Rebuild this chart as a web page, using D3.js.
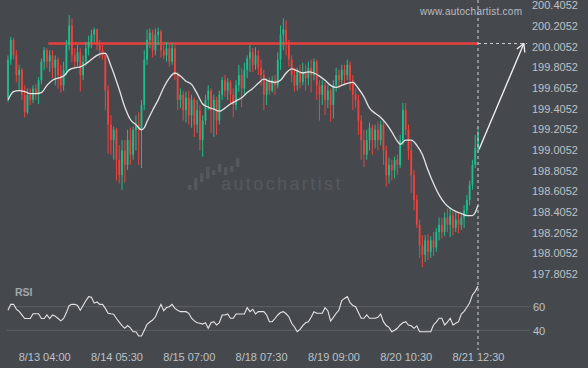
<!DOCTYPE html>
<html>
<head>
<meta charset="utf-8">
<script src="https://cdn.jsdelivr.net/npm/d3@7"></script>
<style>
  body { margin: 0; background: #45494e; }
  svg { display: block; font-family: "Liberation Sans", Arial, sans-serif; }
</style>
</head>
<body>
<div id="chart"></div>
<script>
var width = 588, height = 368;

// 30 min candles
var opens = [199.48,199.85,200.04,199.89,199.70,199.75,199.51,199.34,199.51,199.46,
  199.57,199.51,199.65,199.83,199.94,199.83,199.89,199.77,199.85,199.70,
  199.60,199.75,199.99,200.18,199.89,199.83,199.92,199.70,199.83,199.96,
  200.02,200.09,200.14,199.99,199.94,199.89,199.55,199.22,199.07,199.17,
  198.88,198.73,198.97,198.83,199.07,198.93,199.17,199.22,199.17,199.41,
  199.85,200.04,200.11,199.94,200.09,200.12,199.94,199.89,199.96,199.83,
  199.96,199.70,199.46,199.51,199.36,199.48,199.31,199.46,199.22,199.36,
  199.07,199.26,199.46,199.55,199.36,199.46,199.26,199.51,199.65,199.55,
  199.63,199.51,199.41,199.60,199.70,199.57,199.75,199.86,199.92,199.80,
  199.89,199.77,199.70,199.51,199.63,199.55,199.65,199.60,199.85,200.09,
  200.14,199.99,199.85,199.70,199.60,199.73,199.63,199.73,199.67,199.77,
  199.70,199.83,199.60,199.51,199.60,199.46,199.55,199.41,199.60,199.70,
  199.65,199.75,199.70,199.80,199.65,199.51,199.46,199.26,199.07,198.93,
  199.07,199.19,199.07,199.17,199.07,199.22,198.97,198.73,198.83,198.78,
  198.88,198.83,199.07,199.36,199.17,198.97,198.73,198.49,198.25,198.05,
  197.96,198.10,197.99,198.10,198.03,198.18,198.25,198.18,198.32,198.25,
  198.34,198.22,198.30,198.25,198.32,198.39,198.49,198.64,198.83,198.99];
var highs = [199.89,200.07,200.06,199.94,199.80,199.77,199.60,199.57,199.57,199.60,
  199.61,199.68,199.86,199.97,199.96,199.94,199.94,199.89,199.87,199.80,
  199.83,200.04,200.28,200.25,199.96,199.99,199.96,199.89,200.02,200.08,
  200.14,200.16,200.15,200.04,199.99,199.92,199.60,199.31,199.20,199.19,
  199.02,199.07,199.07,199.17,199.19,199.20,199.31,199.34,199.46,199.94,
  200.14,200.15,200.14,200.15,200.16,200.14,199.99,200.02,199.99,200.01,
  199.99,199.73,199.57,199.55,199.54,199.55,199.51,199.48,199.46,199.41,
  199.31,199.51,199.60,199.57,199.51,199.49,199.55,199.68,199.70,199.67,
  199.65,199.57,199.65,199.80,199.77,199.82,199.89,199.99,199.96,199.97,
  199.94,199.85,199.75,199.67,199.68,199.69,199.70,199.92,200.18,200.25,
  200.23,200.04,199.89,199.77,199.77,199.80,199.82,199.80,199.83,199.85,
  199.86,199.85,199.65,199.65,199.63,199.60,199.57,199.65,199.77,199.75,
  199.80,199.80,199.85,199.83,199.70,199.57,199.51,199.31,199.17,199.17,
  199.24,199.22,199.22,199.25,199.26,199.26,199.02,198.90,198.88,198.91,
  198.93,199.12,199.43,199.43,199.22,199.07,198.78,198.54,198.30,198.15,
  198.15,198.16,198.14,198.18,198.22,198.32,198.32,198.37,198.41,198.42,
  198.39,198.37,198.36,198.37,198.44,198.54,198.68,198.88,199.12,199.19];
var lows = [199.44,199.80,199.85,199.63,199.55,199.46,199.29,199.32,199.41,199.43,
  199.46,199.42,199.61,199.75,199.77,199.73,199.67,199.60,199.57,199.53,
  199.55,199.70,199.94,199.82,199.77,199.79,199.54,199.65,199.79,199.89,
  199.96,200.02,199.94,199.87,199.85,199.36,198.94,198.93,198.88,198.68,
  198.65,198.59,198.66,198.78,198.83,198.88,198.97,198.83,198.80,199.36,
  199.80,199.96,199.87,199.89,199.99,199.87,199.85,199.83,199.78,199.80,
  199.65,199.36,199.38,199.26,199.24,199.22,199.19,199.10,199.14,198.97,
  198.91,199.22,199.36,199.14,199.10,199.12,199.22,199.46,199.49,199.46,
  199.43,199.29,199.36,199.54,199.39,199.51,199.67,199.73,199.73,199.75,
  199.70,199.60,199.36,199.41,199.51,199.53,199.51,199.57,199.75,199.94,
  199.89,199.78,199.63,199.54,199.55,199.57,199.60,199.55,199.60,199.53,
  199.65,199.46,199.26,199.41,199.31,199.38,199.25,199.28,199.54,199.57,
  199.60,199.60,199.65,199.55,199.36,199.38,199.12,198.88,198.81,198.88,
  198.97,198.93,198.99,198.97,199.02,198.83,198.62,198.65,198.68,198.70,
  198.73,198.80,199.02,199.12,198.88,198.56,198.39,198.22,197.93,197.84,
  197.89,197.91,197.93,197.95,197.99,198.10,198.12,198.14,198.18,198.13,
  198.15,198.18,198.17,198.20,198.22,198.34,198.44,198.59,198.80,198.95];
var closes = [199.85,200.04,199.89,199.70,199.75,199.51,199.34,199.51,199.46,199.57,
  199.51,199.65,199.83,199.94,199.83,199.89,199.77,199.85,199.70,199.60,
  199.75,199.99,200.18,199.89,199.83,199.92,199.70,199.83,199.96,200.02,
  200.09,200.14,199.99,199.94,199.89,199.55,199.22,199.07,199.17,198.88,
  198.73,198.97,198.83,199.07,198.93,199.17,199.22,199.17,199.41,199.85,
  200.04,200.11,199.94,200.09,200.12,199.94,199.89,199.96,199.83,199.96,
  199.70,199.46,199.51,199.36,199.48,199.31,199.46,199.22,199.36,199.07,
  199.26,199.46,199.55,199.36,199.46,199.26,199.51,199.65,199.55,199.63,
  199.51,199.41,199.60,199.70,199.57,199.75,199.86,199.92,199.80,199.89,
  199.77,199.70,199.51,199.63,199.55,199.65,199.60,199.85,200.09,200.14,
  199.99,199.85,199.70,199.60,199.73,199.63,199.73,199.67,199.77,199.70,
  199.83,199.60,199.51,199.60,199.46,199.55,199.41,199.60,199.70,199.65,
  199.75,199.70,199.80,199.65,199.51,199.46,199.26,199.07,198.93,199.07,
  199.19,199.07,199.17,199.07,199.22,198.97,198.73,198.83,198.78,198.88,
  198.83,199.07,199.36,199.17,198.97,198.73,198.49,198.25,198.05,197.96,
  198.10,197.99,198.10,198.03,198.18,198.25,198.18,198.32,198.25,198.34,
  198.22,198.30,198.25,198.32,198.39,198.49,198.64,198.83,198.99,199.12];

// moving average [bar, value]
var maPoints = [[0,199.46],[2,199.54],[4,199.55],[6,199.54],[8,199.52],[10,199.52],[12,199.53],
  [14,199.60],[16,199.65],[18,199.67],[20,199.69],[22,199.75],[24,199.77],[26,199.78],
  [28,199.81],[30,199.85],[32,199.89],[34,199.91],[35,199.91],[37,199.79],[40,199.56],
  [42,199.39],[44,199.27],[46,199.22],[48,199.17],[49,199.19],[50,199.25],[52,199.36],
  [54,199.46],[56,199.58],[58,199.67],[60,199.72],[62,199.69],[64,199.64],[66,199.61],
  [68,199.52],[70,199.42],[72,199.39],[74,199.37],[76,199.35],[78,199.38],[80,199.42],
  [82,199.45],[84,199.48],[86,199.53],[88,199.57],[90,199.62],[92,199.66],[94,199.64],
  [96,199.63],[98,199.65],[100,199.72],[102,199.76],[104,199.74],[106,199.72],[108,199.73],
  [110,199.72],[112,199.69],[114,199.65],[116,199.60],[118,199.58],[120,199.60],[122,199.62],
  [124,199.63],[126,199.57],[128,199.49],[130,199.38],[132,199.33],[134,199.29],[136,199.23],
  [138,199.15],[140,199.06],[141,199.03],[143,199.07],[145,199.07],[147,199.02],[149,198.93],
  [151,198.78],[153,198.65],[155,198.54],[157,198.46],[159,198.41],[161,198.38],[163,198.36],
  [165,198.34],[167,198.34],[168,198.37],[169,198.44]];

var rsiValues = [57,62,62,58,56,53,50,50,50,54,54,54,50,50,53,50,53,52,50,48,
  50,55,61,62,62,61,57,61,65,68.5,68,63,64,62,62,58.6,54.5,54,53.6,50,
  47,44,41.7,44,42,38.8,38.8,35.2,35.2,40,45,47,48.7,51.5,57,62,56.6,59.3,60,62,
  58.6,57,55.8,55.8,55.8,54.4,50.2,48,46.4,46,45.3,46.4,41.7,46.4,47.3,44.5,46.4,53,53,53.8,
  50.2,50.2,53.8,53.8,53.8,53.8,59.2,55.8,57.8,53.8,55.8,55.8,55.8,53,47.3,47.3,50,53,55,55.8,
  54,51.5,45.9,42.8,38.8,40.8,44,46.4,47.3,51,55.8,54.4,54.4,54.4,59.2,56.6,47.9,51,54.4,57.2,
  65.1,67,68.5,63.4,61,60,55,50.2,50.2,53,50.2,50.2,50.2,51,53.8,47.3,44,42.5,38.8,40,
  41.7,44.5,46.4,47.3,44.5,43.8,41.7,43.8,38.8,38.8,38.8,38.8,38.8,44.5,47,50.2,50.2,44.5,47,50.2,
  44.5,46,47.3,53.8,56,59.5,63.4,69.9,73,77.5];

var priceTicks = [197.8052,198.0052,198.2052,198.4052,198.6052,198.8052,199.0052,
  199.2052,199.4052,199.6052,199.8052,200.0052,200.2052,200.4052];
var rsiTicks = [40, 60];
var timeTickBars = [13, 39, 65, 91, 117, 143, 169];
var timeTickLabels = ["8/13 04:00","8/14 05:30","8/15 07:00","8/18 07:30","8/19 09:00","8/20 10:30","8/21 12:30"];

var resistanceLevel = 200.0052;
var resistanceStartBar = 14.5;
var forecastFrom = 198.98;
var forecastBars = 16.5;

var svg = d3.select("#chart").append("svg")
    .attr("width", width)
    .attr("height", height);

svg.append("rect").attr("width", width).attr("height", height).attr("fill", "#45494e");

var lastBar = closes.length - 1;
var x = d3.scaleLinear().domain([0, lastBar]).range([8, 478]);
var y = d3.scaleLinear().domain([197.8052, 200.4052]).range([270.8, 2.2]);
var yr = d3.scaleLinear().domain([40, 60]).range([330.3, 306.7]);

// watermark logo
var logo = svg.append("g").attr("fill", "#55595e");
[[188,185,5],[194,178,12],[200,173,9],[206,167,12],[212,170,5],[218,164,8],[224,167,8],[230,166,6],[236,158,9]]
  .forEach(function(b){
    logo.append("rect").attr("x", b[0]).attr("y", b[1]).attr("width", 3.5).attr("height", b[2]).attr("rx", 1);
  });
svg.append("text")
    .attr("x", 221).attr("y", 190)
    .attr("fill", "#55595e")
    .style("font-size", "18px")
    .style("letter-spacing", "2.4px")
    .text("autochartist");

svg.append("text")
    .attr("x", 420).attr("y", 15)
    .attr("fill", "#b9bcc0")
    .style("font-size", "10px")
    .style("letter-spacing", "0.25px")
    .text("www.autochartist.com");

// rsi grid
svg.selectAll(".rsigrid").data(rsiTicks).enter().append("line")
    .attr("x1", 7).attr("x2", 530)
    .attr("y1", function(d){ return yr(d); })
    .attr("y2", function(d){ return yr(d); })
    .attr("stroke", "#5d6166").attr("stroke-width", 1);

// resistance
svg.append("line")
    .attr("x1", x(resistanceStartBar)).attr("x2", x(lastBar))
    .attr("y1", y(resistanceLevel)).attr("y2", y(resistanceLevel))
    .attr("stroke", "#e8413c").attr("stroke-width", 2.5);

// candles
var bars = d3.range(closes.length).map(function(i){
  return {i: i, o: opens[i], h: highs[i], l: lows[i], c: closes[i]};
});
var candle = svg.append("g").selectAll("g").data(bars).enter().append("g")
    .attr("fill", function(d){ return d.c >= d.o ? "#1dbf8c" : "#f0413c"; })
    .attr("stroke", function(d){ return d.c >= d.o ? "#1dbf8c" : "#f0413c"; });
candle.append("line")
    .attr("x1", function(d){ return x(d.i); })
    .attr("x2", function(d){ return x(d.i); })
    .attr("y1", function(d){ return y(d.h); })
    .attr("y2", function(d){ return y(d.l); })
    .attr("stroke-width", 1);
candle.append("rect")
    .attr("stroke", "none")
    .attr("x", function(d){ return x(d.i) - 0.9; })
    .attr("width", 1.8)
    .attr("y", function(d){ return y(Math.max(d.o, d.c)); })
    .attr("height", function(d){ return Math.max(1, Math.abs(y(d.o) - y(d.c))); });

// moving average
svg.append("path")
    .datum(maPoints)
    .attr("fill", "none")
    .attr("stroke", "#e4e4e4")
    .attr("stroke-width", 1.3)
    .attr("d", d3.line()
      .x(function(d){ return x(d[0]); })
      .y(function(d){ return y(d[1]); })
      .curve(d3.curveMonotoneX));

// rsi
svg.append("path")
    .datum(rsiValues)
    .attr("fill", "none")
    .attr("stroke", "#e4e4e4")
    .attr("stroke-width", 1.1)
    .attr("d", d3.line()
      .x(function(d, i){ return x(i); })
      .y(function(d){ return yr(d); }));

svg.append("text")
    .attr("x", 15).attr("y", 295.5)
    .attr("fill", "#a3a7ac")
    .style("font-size", "10.5px")
    .style("font-weight", "bold")
    .text("RSI");

// now line + target
svg.append("line")
    .attr("x1", x(lastBar)).attr("x2", x(lastBar))
    .attr("y1", 0).attr("y2", 350)
    .attr("stroke", "#cfd1d4").attr("stroke-width", 1)
    .attr("stroke-dasharray", "3,3");
svg.append("line")
    .attr("x1", x(lastBar)).attr("x2", 527)
    .attr("y1", y(resistanceLevel)).attr("y2", y(resistanceLevel))
    .attr("stroke", "#cfd1d4").attr("stroke-width", 1)
    .attr("stroke-dasharray", "3,3");

var ax0 = x(lastBar) + 1, ay0 = y(forecastFrom);
var ax1 = x(lastBar + forecastBars), ay1 = y(resistanceLevel);
svg.append("line")
    .attr("x1", ax0).attr("y1", ay0).attr("x2", ax1).attr("y2", ay1)
    .attr("stroke", "#f2f2f2").attr("stroke-width", 1.3);
var ang = Math.atan2(ay0 - ay1, ax0 - ax1);
[-0.5, 0.5].forEach(function(da){
  svg.append("line")
      .attr("x1", ax1).attr("y1", ay1)
      .attr("x2", ax1 + 9 * Math.cos(ang + da))
      .attr("y2", ay1 + 9 * Math.sin(ang + da))
      .attr("stroke", "#f2f2f2").attr("stroke-width", 1.3);
});

// axes
var yAxis = svg.append("g")
    .attr("transform", "translate(529,3)")
    .call(d3.axisRight(y).tickValues(priceTicks).tickSize(0).tickPadding(3).tickFormat(d3.format(".4f")));
var rAxis = svg.append("g")
    .attr("transform", "translate(530,0.5)")
    .call(d3.axisRight(yr).tickValues(rsiTicks).tickSize(0).tickPadding(3));
var xAxis = svg.append("g")
    .attr("transform", "translate(0,350)")
    .call(d3.axisBottom(x).tickValues(timeTickBars).tickSize(0).tickPadding(3)
      .tickFormat(function(d, i){ return timeTickLabels[i]; }));

[yAxis, rAxis, xAxis].forEach(function(a){
  a.select(".domain").remove();
  a.selectAll("text")
    .attr("fill", "#bec1c5")
    .style("font-size", "11px")
    .style("font-family", "'Liberation Sans', Arial, sans-serif");
});
</script>
</body>
</html>
